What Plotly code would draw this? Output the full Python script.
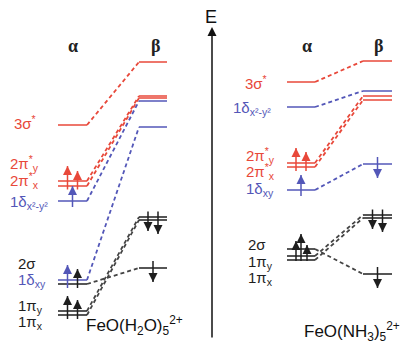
import plotly.graph_objects as go

# ---------------- data ----------------
levels = ["3σ*", "2π*y", "2π*x", "1δx²-y²", "1δxy", "2σ", "1πy", "1πx"]
level_class = ["red", "red", "red", "blue", "blue", "black", "black", "black"]
level_html = ["3σ<sup>*</sup>", "2π<sup>*</sup><sub>y</sub>", "2π<sup>*</sup><sub>x</sub>",
              "1δ<sub>x²-y²</sub>", "1δ<sub>xy</sub>", "2σ", "1π<sub>y</sub>", "1π<sub>x</sub>"]

# FeO(H2O)5 2+  (energy, arbitrary units)
h2o_alpha_E = [225, 169, 164, 149, 70, 66, 39, 35]
h2o_beta_E = [288, 254, 252, 249, 223, 82, 133, 130]
h2o_alpha_occ = [0, 1, 1, 1, 1, 1, 1, 1]
h2o_beta_occ = [0, 0, 0, 0, 0, 1, 1, 1]

# FeO(NH3)5 2+
nh3_alpha_E = [268, 187, 183, 243, 160, 101, 94, 90]
nh3_beta_E = [289, 254, 250, 259, 186, 76, 135, 132]
nh3_alpha_occ = [0, 1, 1, 0, 1, 1, 1, 1]
nh3_beta_occ = [0, 0, 0, 0, 1, 1, 1, 1]

panel_titles = ["FeO(H<sub>2</sub>O)<sub>5</sub><sup>2+</sup>",
                "FeO(NH<sub>3</sub>)<sub>5</sub><sup>2+</sup>"]
spin_labels = ["α", "β"]

# ---------------- layout / style ----------------
W, H = 410, 350
COL = {"red": "#e8483a", "blue": "#5357b8", "black": "#1e1e1e"}
SANS = "Liberation Sans, Arial, sans-serif"
SERIF = "Liberation Serif, Times New Roman, serif"

def py(p):  # pixel row -> energy units
    return H - p

# label positions are given in the same order as `levels`
panels = [
    dict(alpha=h2o_alpha_E, beta=h2o_beta_E, aocc=h2o_alpha_occ, bocc=h2o_beta_occ,
         ax=(58, 87), bx=(139, 167), head_x=(73, 155), title_x=84, title_y=325,
         labels=[(12, 122), (8, 163), (8, 180), (8, 202), (16, 280), (16, 263), (16, 306), (16, 322)]),
    dict(alpha=nh3_alpha_E, beta=nh3_beta_E, aocc=nh3_alpha_occ, bocc=nh3_beta_occ,
         ax=(287, 315), bx=(363, 392), head_x=(307, 378), title_x=302, title_y=331,
         labels=[(243, 82), (244, 155), (244, 171), (231, 108), (244, 189), (246, 244), (246, 262), (246, 278)]),
]

fig = go.Figure()
annotations = []

def groups(E, occ):
    idx = [i for i in range(len(E)) if occ[i]]
    idx.sort(key=lambda i: -E[i])
    out, cur = [], []
    for i in idx:
        if cur and abs(E[cur[-1]] - E[i]) > 8:
            out.append(cur)
            cur = []
        cur.append(i)
    if cur:
        out.append(cur)
    return out

OFFS = {1: [0], 2: [-5, 5], 3: [0, -5, 6]}

def add_arrows(E, occ, xr, up):
    xc = (xr[0] + xr[1]) / 2
    shafts = {}
    for g in groups(E, occ):
        mean = sum(E[i] for i in g) / len(g)
        for k, i in enumerate(g):
            x = xc + OFFS[len(g)][k]
            if up:
                tail, tip = mean - 6, E[i] + 15
            else:
                tail, tip = mean + 7, E[i] - 14
            s = shafts.setdefault(level_class[i], ([], [], [], []))
            s[0].extend([x, x, None])
            s[1].extend([tail, tip, None])
            s[2].append(x)
            s[3].append(tip)
    for cls, (sx, sy, tx, ty) in shafts.items():
        fig.add_trace(go.Scatter(x=sx, y=sy, mode="lines", hoverinfo="skip",
                                 line=dict(color=COL[cls], width=1.5)))
        fig.add_trace(go.Scatter(x=tx, y=ty, mode="markers", hoverinfo="skip",
                                 marker=dict(symbol="arrow-up" if up else "arrow-down",
                                             size=9, color=COL[cls], line=dict(width=0))))

for p in panels:
    for cls in ["red", "blue", "black"]:
        lx, ly, dx, dy = [], [], [], []
        for i in range(len(levels)):
            if level_class[i] != cls:
                continue
            lx += [p["ax"][0], p["ax"][1], None, p["bx"][0], p["bx"][1], None]
            ly += [p["alpha"][i], p["alpha"][i], None, p["beta"][i], p["beta"][i], None]
            dx += [p["ax"][1], p["bx"][0], None]
            dy += [p["alpha"][i], p["beta"][i], None]
        dcol = "#444444" if cls == "black" else COL[cls]
        fig.add_trace(go.Scatter(x=dx, y=dy, mode="lines", hoverinfo="skip",
                                 line=dict(color=dcol, width=1.8, dash="4px,3px")))
        fig.add_trace(go.Scatter(x=lx, y=ly, mode="lines", hoverinfo="skip",
                                 line=dict(color=COL[cls], width=1.5)))
    add_arrows(p["alpha"], p["aocc"], p["ax"], True)
    add_arrows(p["beta"], p["bocc"], p["bx"], False)
    for i, (lxp, lyp) in enumerate(p["labels"]):
        annotations.append(dict(x=lxp, y=py(lyp), xref="x", yref="y", text=level_html[i],
                                showarrow=False, xanchor="left", yanchor="middle",
                                font=dict(family=SANS, size=15, color=COL[level_class[i]])))
    for s, hx in zip(spin_labels, p["head_x"]):
        annotations.append(dict(x=hx, y=py(46), xref="x", yref="y", text="<b>" + s + "</b>",
                                showarrow=False,
                                font=dict(family=SERIF, size=18, color="#222")))

for t, p in zip(panel_titles, panels):
    annotations.append(dict(x=p["title_x"], y=py(p["title_y"]), xref="x", yref="y", text=t,
                            showarrow=False, xanchor="left", yanchor="middle",
                            font=dict(family=SANS, size=17, color="#111")))

# energy axis
annotations.append(dict(x=212, y=py(27), ax=212, ay=py(339), xref="x", yref="y", axref="x",
                        ayref="y", text="", showarrow=True, arrowhead=2, arrowsize=1.2,
                        arrowwidth=1.5, arrowcolor="#111"))
annotations.append(dict(x=211, y=py(17), xref="x", yref="y", text="E", showarrow=False,
                        font=dict(family=SANS, size=18, color="#111")))

fig.update_layout(width=W, height=H, margin=dict(l=0, r=0, t=0, b=0),
                  paper_bgcolor="white", plot_bgcolor="white", showlegend=False,
                  annotations=annotations,
                  xaxis=dict(range=[0, W], visible=False, fixedrange=True),
                  yaxis=dict(range=[0, H], visible=False, fixedrange=True))
fig.write_html("out.html", config={"displayModeBar": False})
